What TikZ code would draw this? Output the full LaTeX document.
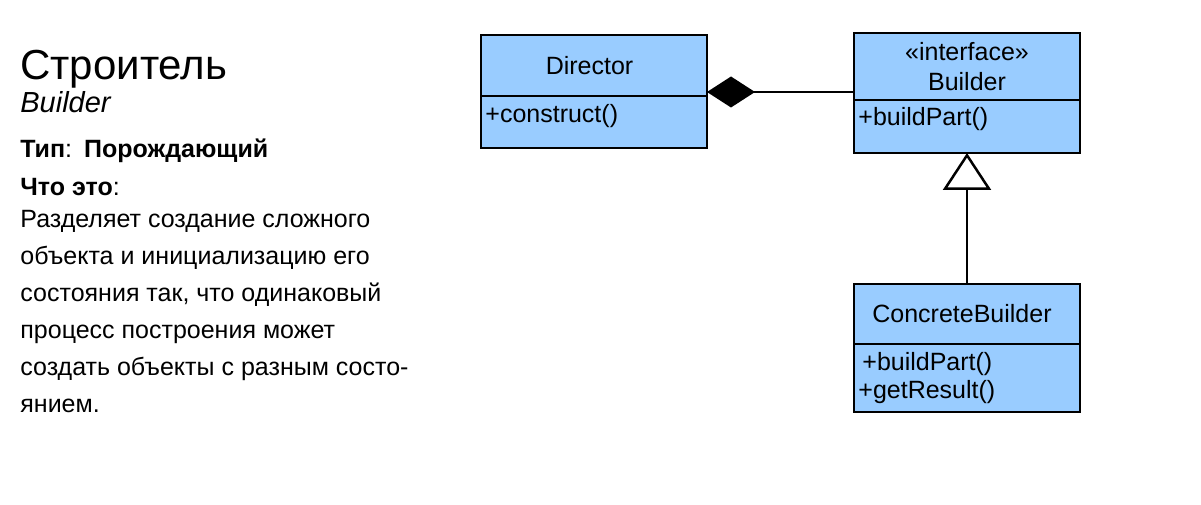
\documentclass[tikz,border=0pt]{standalone}
\usepackage{fontspec}
\setmainfont{Liberation Sans}
\usetikzlibrary{positioning,shapes,arrows.meta}
\definecolor{classblue}{HTML}{99CCFF}

\begin{document}
\begin{tikzpicture}[x=1pt,y=-1pt,thick]
\tikzset{
    classhead/.style={draw, line width=2.5pt, fill=classblue, minimum width=226pt, inner sep=0pt, outer sep=0pt, align=center, font=\fontsize{25}{30}\selectfont},
    classbody/.style={draw, line width=2.5pt, fill=classblue, minimum width=226pt, inner sep=0pt, outer sep=0pt},
    member/.style={anchor=base west, inner sep=0pt, font=\fontsize{25}{29}\selectfont},
    infotext/.style={anchor=base west, inner sep=0pt, font=\fontsize{25}{37}\selectfont},
}
    \useasboundingbox (0,0) rectangle (1201,505);

    % pattern description
    \node[anchor=base west, inner sep=0pt, font=\fontsize{42}{48}\selectfont] (title) at (20,80) {Строитель};
    \node[anchor=base west, inner sep=0pt, font=\fontsize{29}{34}\selectfont\itshape] (subtitle) at (20,113) {Builder};
    \node[infotext] (kind) at (20,158) {\textbf{Тип}:\hspace{12pt}\textbf{Порождающий}};
    \node[infotext] (what) at (20,195) {\textbf{Что это}:};
    % base anchor sits on the last line
    \node[infotext, align=left] (descr) at (20,412) {Разделяет создание сложного\\
        объекта и инициализацию его\\
        состояния так, что одинаковый\\
        процесс построения может\\
        создать объекты с разным состо-\\
        янием.};

    % Director <>-- Builder <|-- ConcreteBuilder
    \node[classhead, anchor=north west, minimum height=61pt] (dirhead) at (481,35) {Director\hspace{9pt}};
    \node[classbody, below=0pt of dirhead, minimum height=52pt] (dirbody) {};
    \node[member] (dirop) at (485,123) {+construct()};

    \node[classhead, anchor=north west, minimum height=67pt] (bldhead) at (854,33) {«interface»\\Builder};
    \node[classbody, below=0pt of bldhead, minimum height=53pt] (bldbody) {};
    \node[member] (bldop) at (858,126) {+buildPart()};

    \node[classhead, below=131pt of bldbody, minimum height=60pt] (conhead) {ConcreteBuilder\hspace{10pt}};
    \node[classbody, below=0pt of conhead, minimum height=68pt] (conbody) {};
    \node[member] (conop) at (862,370) {+buildPart()};
    \node[member] (conres) at (858,398) {+getResult()};

    \draw[-{Diamond[length=48pt,width=31pt]}, line width=1.8pt] (bldhead.west |- 0,92) -- (dirhead.east |- 0,92);
    \draw[-{Triangle[open,length=37pt,width=48pt,line width=2.5pt]}, line width=2.2pt] (conhead.north) -- (bldbody.south);
\end{tikzpicture}
\end{document}
